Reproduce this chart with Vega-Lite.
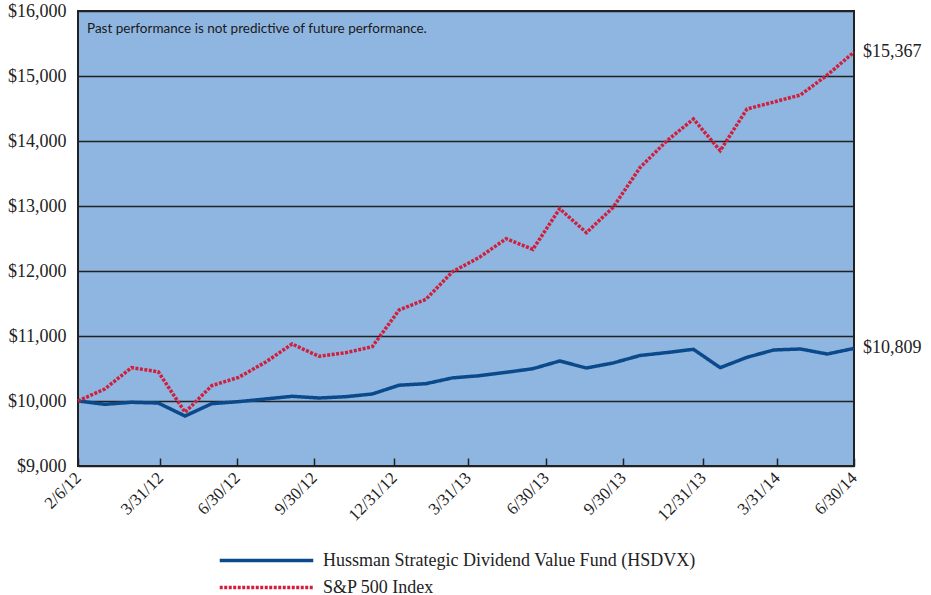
{
  "$schema": "https://vega.github.io/schema/vega-lite/v6.json",
  "width": 776,
  "height": 455,
  "autosize": {"type": "none"},
  "padding": {"left": 78, "top": 11, "right": 77, "bottom": 129},
  "background": "white",
  "view": {"fill": "#8FB5E1", "stroke": "#222222", "strokeWidth": 2},
  "datasets": {
    "growth": [
      {"n": 0, "date": "2/6/12", "HSDVX": 10000, "SP": 10000},
      {"n": 1, "date": "2/29/12", "HSDVX": 9949, "SP": 10185},
      {"n": 2, "date": "3/31/12", "HSDVX": 9980, "SP": 10513},
      {"n": 3, "date": "4/30/12", "HSDVX": 9969, "SP": 10450},
      {"n": 4, "date": "5/31/12", "HSDVX": 9769, "SP": 9826},
      {"n": 5, "date": "6/30/12", "HSDVX": 9959, "SP": 10236},
      {"n": 6, "date": "7/31/12", "HSDVX": 9990, "SP": 10364},
      {"n": 7, "date": "8/31/12", "HSDVX": 10031, "SP": 10595},
      {"n": 8, "date": "9/30/12", "HSDVX": 10072, "SP": 10877},
      {"n": 9, "date": "10/31/12", "HSDVX": 10046, "SP": 10688},
      {"n": 10, "date": "11/30/12", "HSDVX": 10066, "SP": 10743},
      {"n": 11, "date": "12/31/12", "HSDVX": 10108, "SP": 10836},
      {"n": 12, "date": "1/31/13", "HSDVX": 10243, "SP": 11400},
      {"n": 13, "date": "2/28/13", "HSDVX": 10266, "SP": 11564},
      {"n": 14, "date": "3/31/13", "HSDVX": 10356, "SP": 11990},
      {"n": 15, "date": "4/30/13", "HSDVX": 10389, "SP": 12210},
      {"n": 16, "date": "5/31/13", "HSDVX": 10441, "SP": 12497},
      {"n": 17, "date": "6/30/13", "HSDVX": 10497, "SP": 12333},
      {"n": 18, "date": "7/31/13", "HSDVX": 10615, "SP": 12959},
      {"n": 19, "date": "8/31/13", "HSDVX": 10508, "SP": 12590},
      {"n": 20, "date": "9/30/13", "HSDVX": 10585, "SP": 12980},
      {"n": 21, "date": "10/31/13", "HSDVX": 10700, "SP": 13590},
      {"n": 22, "date": "11/30/13", "HSDVX": 10745, "SP": 14000},
      {"n": 23, "date": "12/31/13", "HSDVX": 10795, "SP": 14338},
      {"n": 24, "date": "1/31/14", "HSDVX": 10513, "SP": 13851},
      {"n": 25, "date": "2/28/14", "HSDVX": 10672, "SP": 14492},
      {"n": 26, "date": "3/31/14", "HSDVX": 10785, "SP": 14600},
      {"n": 27, "date": "4/30/14", "HSDVX": 10800, "SP": 14708},
      {"n": 28, "date": "5/31/14", "HSDVX": 10723, "SP": 15015},
      {"n": 29, "date": "6/30/14", "HSDVX": 10809, "SP": 15367}
    ],
    "names": [
      {"key": "HSDVX", "series": "Hussman Strategic Dividend Value Fund (HSDVX)"},
      {"key": "SP", "series": "S&P 500 Index"}
    ],
    "note": [
      {"note": "Past performance is not predictive of future performance."}
    ]
  },
  "layer": [
    {
      "data": {"name": "growth"},
      "transform": [
        {"fold": ["HSDVX", "SP"], "as": ["key", "value"]},
        {"lookup": "key", "from": {"data": {"name": "names"}, "key": "key", "fields": ["series"]}}
      ],
      "mark": {"type": "line", "strokeWidth": 3.5, "strokeCap": "butt", "strokeJoin": "miter"},
      "encoding": {
        "x": {
          "field": "n", "type": "quantitative",
          "scale": {"domain": [0, 29], "nice": false, "zero": false},
          "axis": {
            "title": null,
            "values": [0, 3.07, 5.94, 8.82, 11.81, 14.57, 17.49, 20.37, 23.36, 26.12, 29],
            "labelExpr": "datum.value < 1 ? '2/6/12' : datum.value < 4 ? '3/31/12' : datum.value < 7 ? '6/30/12' : datum.value < 10 ? '9/30/12' : datum.value < 13 ? '12/31/12' : datum.value < 16 ? '3/31/13' : datum.value < 19 ? '6/30/13' : datum.value < 22 ? '9/30/13' : datum.value < 25 ? '12/31/13' : datum.value < 28 ? '3/31/14' : '6/30/14'",
            "labelFont": "Liberation Serif",
            "labelFontSize": 17,
            "labelColor": "#222222",
            "labelAngle": -45,
            "labelAlign": "right",
            "labelBaseline": "middle",
            "labelPadding": 17,
            "labelOverlap": false,
            "labelFlush": false,
            "tickSize": -8,
            "tickColor": "#222222",
            "tickWidth": 1.5,
            "domain": false,
            "grid": false
          }
        },
        "y": {
          "field": "value", "type": "quantitative",
          "scale": {"domain": [9000, 16000], "nice": false, "zero": false},
          "axis": {
            "title": null,
            "values": [9000, 10000, 11000, 12000, 13000, 14000, 15000, 16000],
            "format": "$,d",
            "labelFont": "Liberation Serif",
            "labelFontSize": 18,
            "labelColor": "#222222",
            "ticks": false,
            "domain": false,
            "labelPadding": 12,
            "grid": true,
            "gridColor": "#222222",
            "gridWidth": 1.5
          }
        },
        "color": {
          "field": "series", "type": "nominal",
          "scale": {"domain": ["Hussman Strategic Dividend Value Fund (HSDVX)", "S&P 500 Index"], "range": ["#0B4A8A", "#D01F3D"]},
          "legend": {
            "title": null,
            "orient": "none",
            "legendX": 177,
            "legendY": 538,
            "direction": "vertical",
            "symbolType": "M-5,0H5",
            "symbolSize": 350,
            "symbolStrokeWidth": 3.5,
            "symbolFillColor": "transparent",
            "labelFont": "Liberation Serif",
            "labelFontSize": 18,
            "labelColor": "#222222",
            "labelLimit": 600,
            "labelOffset": 45,
            "rowPadding": 6,
            "padding": 0
          }
        },
        "strokeDash": {
          "field": "series", "type": "nominal",
          "scale": {"domain": ["Hussman Strategic Dividend Value Fund (HSDVX)", "S&P 500 Index"], "range": [[1, 0], [3, 1.5]]},
          "legend": {
            "title": null,
            "orient": "none",
            "legendX": 177,
            "legendY": 538,
            "direction": "vertical",
            "symbolType": "M-5,0H5",
            "symbolSize": 350,
            "symbolStrokeWidth": 3.5,
            "symbolFillColor": "transparent",
            "labelFont": "Liberation Serif",
            "labelFontSize": 18,
            "labelColor": "#222222",
            "labelLimit": 600,
            "labelOffset": 45,
            "rowPadding": 6,
            "padding": 0
          }
        }
      }
    },
    {
      "data": {"name": "growth"},
      "transform": [
        {"filter": "datum.n == 29"},
        {"fold": ["HSDVX", "SP"], "as": ["key", "value"]}
      ],
      "mark": {"type": "text", "align": "left", "baseline": "middle", "dx": 9, "font": "Liberation Serif", "fontSize": 18, "color": "#222222"},
      "encoding": {
        "x": {"field": "n", "type": "quantitative"},
        "y": {"field": "value", "type": "quantitative"},
        "text": {"field": "value", "type": "quantitative", "format": "$,d"}
      }
    },
    {
      "data": {"name": "note"},
      "mark": {"type": "text", "align": "left", "baseline": "middle", "dx": 9, "font": "Lato", "fontSize": 13.5, "color": "#1a1a1a"},
      "encoding": {
        "x": {"datum": 0, "type": "quantitative"},
        "y": {"datum": 15720, "type": "quantitative"},
        "text": {"field": "note", "type": "nominal"}
      }
    }
  ]
}
